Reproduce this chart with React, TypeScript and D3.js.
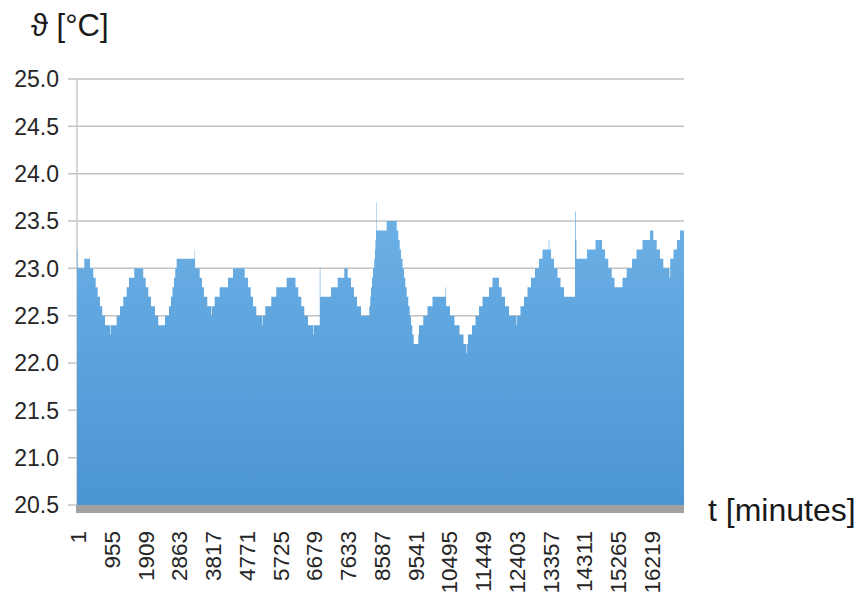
import { useEffect, useRef } from "react";
import * as d3 from "d3";

// Minute index where each 0.1 °C step starts (step-after).
const minutes = [
  1, 18, 207, 368, 461, 529, 585, 650, 715, 792, 933, 950, 1122, 1216, 1309,
  1405, 1470, 1620, 1874, 1942, 2016, 2092, 2205, 2298, 2488, 2601, 2657, 2700,
  2742, 2779, 2819, 3327, 3339, 3469, 3534, 3590, 3684, 3797, 3814, 3893, 4034,
  4269, 4410, 4741, 4834, 4911, 4976, 5069, 5230, 5247, 5324, 5493, 5634, 5928,
  6177, 6256, 6341, 6426, 6530, 6672, 6689, 6864, 6881, 7181, 7370, 7557, 7653,
  7746, 7831, 7916, 8029, 8263, 8292, 8311, 8340, 8368, 8405, 8424, 8438, 8453,
  8467, 8755, 9038, 9083, 9123, 9159, 9202, 9244, 9281, 9321, 9366, 9405, 9442,
  9479, 9518, 9649, 9668, 9790, 9909, 10050, 10418, 10435, 10545, 10672, 10814,
  10926, 11011, 11028, 11054, 11167, 11266, 11365, 11464, 11648, 11746, 11930,
  12006, 12100, 12213, 12425, 12442, 12538, 12637, 12736, 12835, 12948, 13061,
  13160, 13335, 13352, 13400, 13485, 13584, 13669, 13768, 14079, 14099, 14119,
  14418, 14659, 14843, 14928, 15020, 15116, 15195, 15421, 15540, 15690, 15817,
  15987, 16199, 16292, 16388, 16481, 16575, 16750, 16770, 16863, 16962, 17047,
  17160,
];

const temps = [
  23.2, 23.0, 23.1, 23.0, 22.9, 22.8, 22.7, 22.6, 22.5, 22.4, 22.3, 22.4, 22.5,
  22.6, 22.7, 22.8, 22.9, 23.0, 22.9, 22.8, 22.7, 22.6, 22.5, 22.4, 22.5, 22.6,
  22.7, 22.8, 22.9, 23.0, 23.1, 23.2, 23.0, 22.9, 22.8, 22.7, 22.6, 22.5, 22.6,
  22.7, 22.8, 22.9, 23.0, 22.9, 22.8, 22.7, 22.6, 22.5, 22.4, 22.5, 22.6, 22.7,
  22.8, 22.9, 22.8, 22.7, 22.6, 22.5, 22.4, 22.3, 22.4, 23.0, 22.7, 22.8, 22.9,
  23.0, 22.9, 22.8, 22.7, 22.6, 22.5, 22.6, 22.7, 22.8, 22.9, 23.0, 23.1, 23.2,
  23.3, 23.7, 23.4, 23.5, 23.4, 23.3, 23.2, 23.1, 23.0, 22.9, 22.8, 22.7, 22.6,
  22.5, 22.4, 22.3, 22.2, 22.3, 22.4, 22.5, 22.6, 22.7, 22.8, 22.6, 22.5, 22.4,
  22.3, 22.2, 22.1, 22.2, 22.3, 22.4, 22.5, 22.6, 22.7, 22.8, 22.9, 22.8, 22.7,
  22.6, 22.5, 22.4, 22.5, 22.6, 22.7, 22.8, 22.9, 23.0, 23.1, 23.2, 23.3, 23.2,
  23.1, 23.0, 22.9, 22.8, 22.7, 23.6, 23.3, 23.1, 23.2, 23.3, 23.2, 23.1, 23.0,
  22.9, 22.8, 22.9, 23.0, 23.1, 23.2, 23.3, 23.4, 23.3, 23.2, 23.1, 23.0, 22.9,
  23.1, 23.2, 23.3, 23.4, 23.4,
];

const yTicks = [20.5, 21.0, 21.5, 22.0, 22.5, 23.0, 23.5, 24.0, 24.5, 25.0];
const xTicks = [
  1, 955, 1909, 2863, 3817, 4771, 5725, 6679, 7633, 8587, 9541, 10495, 11449,
  12403, 13357, 14311, 15265, 16219,
];

const W = 860;
const H = 599;
const FONT = "'Liberation Sans', Arial, sans-serif";

export default function App() {
  const svgRef = useRef<SVGSVGElement>(null);

  useEffect(() => {
    if (!svgRef.current) return;
    const svg = d3.select(svgRef.current);
    svg.selectAll("*").remove();

    const left = 77;
    const right = 684;
    const top = 79;
    const bottom = 505;

    const x = d3.scaleLinear().domain([1, 17160]).range([left, right]);
    const y = d3.scaleLinear().domain([20.5, 25]).range([bottom, top]);

    const data = minutes.map((m, i) => ({ t: m, v: temps[i] }));

    // gradient fill
    const defs = svg.append("defs");
    const grad = defs
      .append("linearGradient")
      .attr("id", "areaFill")
      .attr("gradientUnits", "userSpaceOnUse")
      .attr("x1", 0).attr("x2", 0)
      .attr("y1", y(23.7)).attr("y2", bottom);
    grad.append("stop").attr("offset", "0%").attr("stop-color", "#6db1e6");
    grad.append("stop").attr("offset", "100%").attr("stop-color", "#4b95d3");

    // ── Grid lines ─────────────────────────────────────────────
    svg.append("g")
      .selectAll("line")
      .data(yTicks)
      .join("line")
      .attr("x1", left - 9).attr("x2", right)
      .attr("y1", (d) => y(d)).attr("y2", (d) => y(d))
      .attr("stroke", "#c3c3c3")
      .attr("stroke-width", 1.5);

    // vertical axis line
    svg.append("line")
      .attr("x1", left).attr("x2", left)
      .attr("y1", top).attr("y2", bottom)
      .attr("stroke", "#c8c8c8")
      .attr("stroke-width", 1.5);

    // ── Area ───────────────────────────────────────────────────
    const area = d3.area<{ t: number; v: number }>()
      .x((d) => x(d.t))
      .y0(bottom)
      .y1((d) => y(d.v))
      .curve(d3.curveStepAfter);

    svg.append("path").datum(data)
      .attr("fill", "url(#areaFill)")
      .attr("d", area);

    // thick grey category axis
    svg.append("rect")
      .attr("x", left - 1).attr("y", bottom)
      .attr("width", right - left + 1).attr("height", 8)
      .attr("fill", "#a2a2a2");

    // ── Y labels ───────────────────────────────────────────────
    svg.append("g")
      .selectAll("text")
      .data(yTicks)
      .join("text")
      .attr("x", 59)
      .attr("y", (d) => y(d))
      .attr("dy", "0.36em")
      .attr("text-anchor", "end")
      .attr("font-family", FONT)
      .attr("font-size", 23)
      .attr("fill", "#262626")
      .text((d) => d3.format(".1f")(d));

    // ── X labels (rotated) ─────────────────────────────────────
    svg.append("g")
      .selectAll("text")
      .data(xTicks)
      .join("text")
      .attr("transform", (d) => `translate(${x(d) + 1},531) rotate(-90)`)
      .attr("dy", "0.36em")
      .attr("text-anchor", "end")
      .attr("font-family", FONT)
      .attr("font-size", 22.5)
      .attr("fill", "#262626")
      .text((d) => String(d));

    // ── Axis titles ────────────────────────────────────────────
    svg.append("text")
      .attr("x", 31).attr("y", 36)
      .attr("font-family", FONT)
      .attr("font-size", 31)
      .attr("fill", "#1a1a1a")
      .text("ϑ [°C]");

    svg.append("text")
      .attr("x", 708).attr("y", 521)
      .attr("font-family", FONT)
      .attr("font-size", 32)
      .attr("fill", "#1a1a1a")
      .text("t [minutes]");
  }, []);

  return (
    <div style={{ position: "absolute", left: 0, top: 0 }}>
      <svg ref={svgRef} width={W} height={H} style={{ display: "block", background: "#fff" }} />
    </div>
  );
}
